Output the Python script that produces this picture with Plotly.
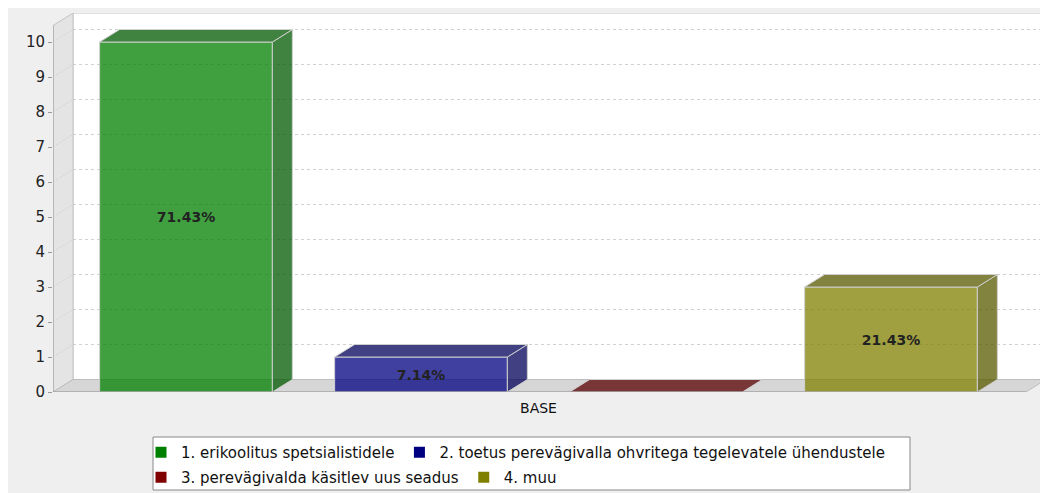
import plotly.graph_objects as go

# ---- data ----
category = "BASE"
series_names = [
    "1. erikoolitus spetsialistidele",
    "2. toetus perevägivalla ohvritega tegelevatele ühendustele",
    "3. perevägivalda käsitlev uus seadus",
    "4. muu",
]
values = [10, 1, 0, 3]
series_colors = [(0, 128, 0), (0, 0, 128), (128, 0, 0), (128, 128, 0)]
y_ticks = list(range(0, 11))

# ---- geometry ----
OFF = 8                       # page body margin
W, H = 1048 - OFF, 493 - OFF  # figure size
ML = 53 - OFF
MT = 13 - OFF
MR = W - (1046 - OFF)
MB = H - (392 - OFF)
px_x = 235.0          # pixels per x unit
px_y = 35.0           # pixels per y unit
bar_w = 0.735
dx = 20 / px_x        # 3D depth offset
dy = 12.5 / px_y
xmin = ((53) - 186) / px_x
xmax = xmin + (W - ML - MR) / px_x
ymax = (H - MT - MB) / px_y
ytop_front = ymax - dy

total = sum(values)
labels = [f"{v / total * 100:.2f}%" if v > 0 else "" for v in values]


def rgba(c, a=0.75, f=1.0):
    return f"rgba({int(c[0]*f)},{int(c[1]*f)},{int(c[2]*f)},{a})"


FONT = "DejaVu Sans, sans-serif"
fig = go.Figure()

# front faces
for i, (name, v, c, lab) in enumerate(zip(series_names, values, series_colors, labels)):
    fig.add_trace(go.Bar(
        x=[i], y=[v], width=bar_w, name=name, showlegend=False,
        marker=dict(color=rgba(c), line=dict(color="#cfcfcf", width=1)),
        text=[lab], textposition="inside", insidetextanchor="middle",
        textfont=dict(family=FONT, size=14, color="#222222", weight="bold"),
        constraintext="none", hoverinfo="skip",
    ))

# side and top faces
for i, (v, c) in enumerate(zip(values, series_colors)):
    xl, xr = i - bar_w / 2, i + bar_w / 2
    fig.add_trace(go.Scatter(
        x=[xr, xr, xr + dx, xr + dx, xr], y=[0, v, v + dy, dy, 0],
        fill="toself", fillcolor=rgba(c, 0.75, 0.7), mode="lines",
        line=dict(color="#cfcfcf", width=1), showlegend=False, hoverinfo="skip",
    ))
    fig.add_trace(go.Scatter(
        x=[xl, xr, xr + dx, xl + dx, xl], y=[v, v, v + dy, v + dy, v],
        fill="toself", fillcolor=rgba(c, 0.75, 0.7), mode="lines",
        line=dict(color="#cfcfcf", width=1), showlegend=False, hoverinfo="skip",
    ))

# legend entries
for i, (name, c) in enumerate(zip(series_names, series_colors)):
    fig.add_trace(go.Scatter(
        x=[None], y=[None], mode="markers", name=name,
        marker=dict(symbol="square", size=11, color=f"rgb{c}"),
        legend="legend" if i < 2 else "legend2",
    ))

shapes = []
# back wall
shapes.append(dict(type="rect", xref="x", yref="y", x0=xmin + dx, x1=xmax, y0=dy, y1=ymax,
                   fillcolor="white", line=dict(color="#c4c4c4", width=1), layer="below"))
# left wall
shapes.append(dict(type="path", xref="x", yref="y",
                   path=f"M{xmin},0 L{xmin},{ytop_front} L{xmin+dx},{ymax} L{xmin+dx},{dy} Z",
                   fillcolor="#e4e4e4", line=dict(color="#c4c4c4", width=1), layer="below"))
# gridlines
for t in y_ticks[1:]:
    shapes.append(dict(type="line", xref="x", yref="y", x0=xmin + dx, x1=xmax, y0=t + dy, y1=t + dy,
                       line=dict(color="#d0d0d0", width=1, dash="3px,3px"), layer="below"))
    shapes.append(dict(type="line", xref="x", yref="y", x0=xmin, x1=xmin + dx, y0=t, y1=t + dy,
                       line=dict(color="#d0d0d0", width=1, dash="2px,2px"), layer="below"))
# floor
shapes.append(dict(type="path", xref="x", yref="y",
                   path=f"M{xmin},0 L{xmax-dx},0 L{xmax},{dy} L{xmin+dx},{dy} Z",
                   fillcolor="#d6d6d6", line=dict(color="#bdbdbd", width=1), layer="below"))
# axis lines
shapes.append(dict(type="line", xref="x", yref="y", x0=xmin, x1=xmin, y0=0, y1=ytop_front,
                   line=dict(color="#999999", width=1), layer="above"))
shapes.append(dict(type="line", xref="x", yref="y", x0=xmin, x1=xmax - dx, y0=0, y1=0,
                   line=dict(color="#999999", width=1), layer="above"))

# legend box (page pixel coords -> paper)
pw, ph = W - ML - MR, H - MT - MB
def pxx(p): return (p - OFF - ML) / pw
def pxy(p): return (H - MB - (p - OFF)) / ph
shapes.append(dict(type="rect", xref="paper", yref="paper", x0=pxx(153), x1=pxx(910),
                   y0=pxy(490), y1=pxy(437), fillcolor="white",
                   line=dict(color="#888888", width=1), layer="below"))

leg_common = dict(orientation="h", bgcolor="rgba(0,0,0,0)", borderwidth=0,
                  font=dict(family=FONT, size=15, color="#111111"),
                  xanchor="left", yanchor="middle", itemwidth=30, tracegroupgap=0)
fig.update_layout(
    width=W, height=H, autosize=False,
    margin=dict(l=ML, r=MR, t=MT, b=MB, pad=0, autoexpand=False),
    paper_bgcolor="#efefef", plot_bgcolor="rgba(0,0,0,0)",
    barmode="overlay", shapes=shapes,
    xaxis=dict(range=[xmin, xmax], tickvals=[1.5], ticktext=[category], showgrid=False,
               zeroline=False, showline=False, ticks="", fixedrange=True, ticklabelstandoff=6,
               tickfont=dict(family=FONT, size=14, color="#111111")),
    yaxis=dict(range=[0, ymax], tickvals=y_ticks, showgrid=False, zeroline=False,
               showline=False, ticks="outside", ticklen=4, tickcolor="#999999",
               tickfont=dict(family=FONT, size=15, color="#222222"), fixedrange=True),
    legend=dict(x=pxx(141), y=pxy(452.5), **leg_common),
    legend2=dict(x=pxx(141), y=pxy(477.5), **leg_common),
)

fig.write_html("out.html")
